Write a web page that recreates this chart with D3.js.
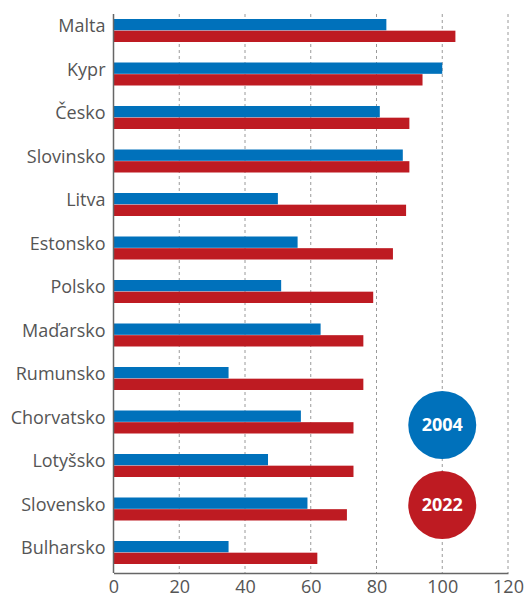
<!DOCTYPE html>
<html>
<head>
<meta charset="utf-8">
<script src="https://cdn.jsdelivr.net/npm/d3@7"></script>
<style>
  body { margin: 0; background: #fff; }
  svg { display: block; font-family: 'Open Sans', sans-serif; }
</style>
</head>
<body>
<div class="bar-chart-container"></div>
<script>
// Data
const countries = ['Malta','Kypr','Česko','Slovinsko','Litva','Estonsko','Polsko',
                   'Maďarsko','Rumunsko','Chorvatsko','Lotyšsko','Slovensko','Bulharsko'];
const values2004 = [83, 100, 81, 88, 50, 56, 51, 63, 35, 57, 47, 59, 35];
const values2022 = [104, 94, 90, 90, 89, 85, 79, 76, 76, 73, 73, 71, 62];
const years = ['2004', '2022'];
const xTicks = [0, 20, 40, 60, 80, 100, 120];

const colors = {'2004': '#0071bb', '2022': '#be1b22'};

const svg_width = 526;
const svg_height = 595;

const svg = d3.select('.bar-chart-container').append('svg')
    .attr('width', svg_width).attr('height', svg_height);

// scales
const xScale = d3.scaleLinear([0, 120], [113.5, 508]);
const yScale = d3.scaleBand().domain(countries).range([8.75, 574.25]).padding(0);
const yInner = d3.scaleBand().domain(years).range([0, 23]).paddingInner(0.03);

const plotTop = 14, plotBottom = 573;

// grid
svg.append('g').attr('class', 'grid')
  .selectAll('line').data(xTicks.filter(d => d > 0)).join('line')
  .attr('x1', d => xScale(d)).attr('x2', d => xScale(d))
  .attr('y1', plotTop).attr('y2', plotBottom)
  .style('stroke', '#9a9a9a').style('stroke-width', 1)
  .style('stroke-dasharray', '3,3');

// bars
const rows = countries.map((c, i) => ({country: c, '2004': values2004[i], '2022': values2022[i]}));
const groups = svg.append('g').attr('class', 'bars')
  .selectAll('g').data(rows).join('g')
  .attr('transform', d => `translate(0,${yScale(d.country) + yScale.bandwidth()/2 - 11.5})`);

groups.selectAll('rect').data(d => years.map(y => ({year: y, value: d[y]}))).join('rect')
  .attr('x', xScale(0))
  .attr('y', d => yInner(d.year))
  .attr('width', d => xScale(d.value) - xScale(0))
  .attr('height', yInner.bandwidth())
  .style('fill', d => colors[d.year]);

// axes
const xAxis = d3.axisBottom(xScale).tickValues(xTicks).tickSize(0).tickPadding(7);
const xAxisDraw = svg.append('g').attr('class', 'x axis')
  .attr('transform', `translate(0,${plotBottom})`).call(xAxis);
xAxisDraw.select('.domain').style('stroke', '#666').style('stroke-width', 1.5);
xAxisDraw.selectAll('text').style('font-size', '18px').style('fill', '#555')
  .style('font-family', "'Open Sans', sans-serif");

const yAxis = d3.axisLeft(yScale).tickSize(0).tickPadding(8);
const yAxisDraw = svg.append('g').attr('class', 'y axis')
  .attr('transform', `translate(${xScale(0)},0)`).call(yAxis);
yAxisDraw.select('.domain').remove();
yAxisDraw.selectAll('text').style('font-size', '18px').style('fill', '#555')
  .style('font-family', "'Open Sans', sans-serif").attr('dy', '0.1em');
svg.append('line')
  .attr('x1', xScale(0)).attr('x2', xScale(0))
  .attr('y1', plotTop).attr('y2', plotBottom)
  .style('stroke', '#666').style('stroke-width', 1.5);

// legend circles
const legendPos = [425, 505];
const legend = svg.append('g').attr('class', 'legend')
  .selectAll('g').data(years).join('g')
  .attr('transform', (d, i) => `translate(${xScale(100)},${legendPos[i]})`);
legend.append('circle').attr('r', 34).style('fill', d => colors[d]);
legend.append('text').text(d => d)
  .attr('text-anchor', 'middle').attr('dy', '0.36em')
  .style('fill', '#fff').style('font-weight', 'bold').style('font-size', '18px');
</script>
</body>
</html>
